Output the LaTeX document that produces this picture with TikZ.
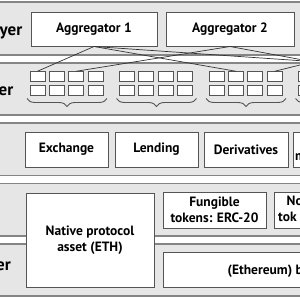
\documentclass[tikz,border=0pt]{standalone}
\usepackage{fontspec}
\setmainfont{PT Sans}
\usetikzlibrary{decorations.pathreplacing}
\definecolor{bandfill}{HTML}{E6E6E6}
\definecolor{bandline}{HTML}{858585}
\definecolor{boxline}{HTML}{555555}
\definecolor{conn}{HTML}{333333}
\begin{document}
\begin{tikzpicture}[x=1pt,y=-1pt,
  band/.style={fill=bandfill,draw=bandline,line width=1.2pt},
  box/.style={draw=boxline,fill=white,line width=1pt,inner sep=0pt,align=center,font=\fontsize{13.5}{15.5}\selectfont\bfseries},
  sq/.style={draw=boxline,fill=white,line width=0.9pt,minimum width=15pt,minimum height=10pt,inner sep=0pt},
  lbl/.style={font=\fontsize{17}{19}\selectfont\bfseries,inner sep=0pt},
  txt/.style={font=\fontsize{13.5}{15.5}\selectfont\bfseries,inner sep=0pt},
  link/.style={draw=conn,line width=0.7pt},
  brc/.style={draw=boxline,line width=0.9pt,decorate,decoration={brace,amplitude=8pt}}]
\useasboundingbox (0,0) rectangle (300,300);
\clip (0,0) rectangle (300,300);
% layer bands
\draw[band] (-5,2) rectangle (310,55);
\draw[band] (-5,63) rectangle (310,115);
\draw[band] (-5,123) rectangle (310,175.5);
\draw[band] (-5,183.5) rectangle (310,236);
\draw[band] (-5,244) rectangle (310,296);
% layer labels (visible parts)
\node[lbl,anchor=base east] (l1) at (22.5,35) {yer};
\node[lbl,anchor=base east] (l2) at (13.5,95) {er};
\node[lbl,anchor=base east] (l5) at (11,270.5) {er};
% aggregators
\node[box,minimum width=126pt,minimum height=34pt] (agg1) at (94,29) {Aggregator 1};
\node[box,minimum width=128pt,minimum height=34pt] (agg2) at (230,29) {Aggregator 2};
\coordinate (agg3s) at (377,46);
% squares
\foreach \g/\gx in {1/30,2/119.5,3/209,4/298.5,5/388} {
  \foreach \s in {1,...,4} {
    \node[sq] (g\g-\s-a) at ({\gx+7.5+(\s-1)*19.4},76.7) {};
    \node[sq] (g\g-\s-b) at ({\gx+7.5+(\s-1)*19.4},90) {};
  }
  \draw[brc] ({\gx+77},98.5) -- ({\gx-3},98.5);
}
% connectors
\draw[link] (agg1.south) -- (g1-1-a.north);
\draw[link] (agg1.south) -- (g3-2-a.north);
\draw[link] (agg1.south) -- (g5-4-a.north);
\draw[link] (agg2.south) -- (g1-3-a.north);
\draw[link] (agg2.south) -- (g4-4-a.north);
\draw[link] (agg3s) -- (g3-4-a.north);
% protocols
\node[box,minimum width=83pt,minimum height=35pt] (exch) at (66.5,149.5) {Exchange};
\node[box,minimum width=83pt,minimum height=35pt] (lend) at (156.5,149.5) {Lending};
\node[box,minimum width=84pt,minimum height=35pt] (deriv) at (246,149.5) {Derivatives};
\node[box,minimum width=90pt,minimum height=35pt] (am) at (338,149.5) {};
\node[txt,anchor=base west] (amt) at (295,160) {m};
% assets
\node[box,minimum width=128pt,minimum height=94pt] (eth) at (90,240) {Native protocol\\asset (ETH)};
\node[box,minimum width=103pt,minimum height=36pt] (erc20) at (214.5,210) {Fungible\\tokens: ERC-20};
\node[box,minimum width=100pt,minimum height=36pt] (nft) at (324,210) {};
\node[txt,anchor=base west] (nft1) at (286.5,205.5) {No};
\node[txt,anchor=base west] (nft2) at (278,221.5) {tok};
% settlement
\node[box,minimum width=200pt,minimum height=35pt] (chain) at (263,269.5) {};
\node[txt,anchor=base west] (chaint) at (227.5,274) {(Ethereum) b};
\end{tikzpicture}
\end{document}
